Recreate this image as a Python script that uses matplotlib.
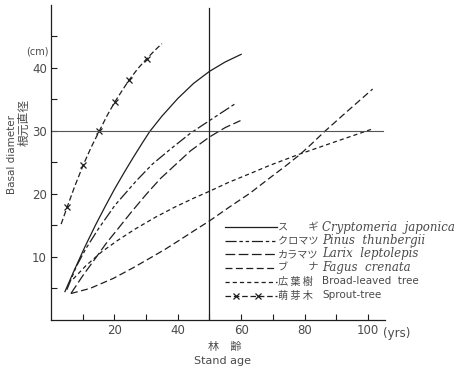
import matplotlib.pyplot as plt
from matplotlib.lines import Line2D

plt.rcParams['lines.scale_dashes'] = False
plt.rcParams['font.family'] = ['DejaVu Sans', 'Noto Sans CJK JP']

# curves (stand age in yrs, basal diameter in cm)
sugi_x = [4.4, 7, 10.7, 14, 17, 20, 23, 26, 29, 31.2, 35, 40, 45, 50, 55, 60]
sugi_y = [4.5, 7.5, 11.6, 15.0, 17.9, 20.7, 23.3, 25.8, 28.2, 29.9, 32.3, 35.1, 37.5, 39.4, 40.9, 42.1]

pinus_x = [5, 8, 11, 14.9, 20.2, 27, 32, 37.5, 44, 50, 58.5]
pinus_y = [4.8, 8.5, 11.3, 14.4, 18.2, 22.1, 24.7, 27.0, 29.6, 31.6, 34.4]

larix_x = [6.3, 10, 13.9, 17.5, 21.2, 25.5, 30.2, 34.5, 38.6, 44, 50, 55, 59.8]
larix_y = [4.2, 7.0, 9.7, 12.2, 14.5, 17.2, 20.0, 22.4, 24.3, 26.8, 29.0, 30.5, 31.6]

fagus_x = [6.3, 12.3, 19.7, 26, 31.2, 36, 40.7, 45, 50, 56, 62.8, 69, 74, 78.5, 82, 86.4, 94, 101.5]
fagus_y = [4.2, 5.0, 6.6, 8.3, 9.8, 11.2, 12.7, 14.1, 15.7, 17.8, 20.1, 22.5, 24.4, 26.2, 27.8, 29.9, 33.3, 36.6]

broad_x = [7, 11, 16, 21, 26.5, 33, 39.1, 45, 50, 56, 62.8, 69, 78.5, 90, 101]
broad_y = [6.5, 8.6, 10.8, 12.6, 14.4, 16.3, 17.9, 19.3, 20.4, 21.8, 23.2, 24.5, 26.3, 28.3, 30.2]

sprout_x = [3.2, 5.1, 7.5, 10.2, 12.7, 15.2, 17.7, 20.2, 22.5, 24.6, 27.5, 30.2, 32.5, 35]
sprout_y = [15.2, 17.9, 21.2, 24.6, 27.4, 29.9, 32.4, 34.6, 36.4, 38.0, 39.9, 41.4, 42.6, 43.8]
sprout_marks = [1, 3, 5, 7, 9, 11]

x_ticks = [10, 20, 30, 40, 50, 60, 70, 80, 90, 100]
x_ticklabels = ['', '20', '', '40', '', '60', '', '80', '', '100']
y_ticks = [5, 10, 15, 20, 25, 30, 35, 40, 45]
y_ticklabels = ['', '10', '', '20', '', '30', '', '40', '']

jp_names = ['ス\u3000\u3000ギ', 'クロマツ', 'カラマツ', 'ブ\u3000\u3000ナ', '広 葉 樹', '萌 芽 木']
latin_names = ['Cryptomeria  japonica', 'Pinus  thunbergii', 'Larix  leptolepis',
               'Fagus  crenata', 'Broad-leaved  tree', 'Sprout-tree']

ink = '#1e1e1e'
txt = '#4a4a4a'
styles = [
    dict(linestyle='-'),
    dict(linestyle=(0, (8, 2, 2.5, 2, 2.5, 2))),
    dict(linestyle=(0, (7, 2.5))),
    dict(linestyle=(0, (5, 2.5))),
    dict(linestyle=(0, (3, 2.2))),
    dict(linestyle=(0, (4, 2)), marker='x', markersize=4, markeredgewidth=0.9),
]

W, H = 459, 368
def fx(px):
    return px / W
def fy(py):
    return 1 - py / H

fig = plt.figure(figsize=(W / 100, H / 100), dpi=100)
ax = fig.add_axes([fx(51), fy(320), (385 - 51) / W, (320 - 4.5) / H])
ax.set_xlim(0, 105.4)
ax.set_ylim(0, 50)

series = [(sugi_x, sugi_y), (pinus_x, pinus_y), (larix_x, larix_y),
          (fagus_x, fagus_y), (broad_x, broad_y), (sprout_x, sprout_y)]
for i, (xs, ys) in enumerate(series):
    kw = dict(styles[i])
    if i == 5:
        kw['markevery'] = sprout_marks
    ax.plot(xs, ys, color=ink, lw=0.9, **kw)

# reference lines
ax.axhline(30, xmin=0, xmax=104.7 / 105.4, color='#555555', lw=0.8)
ax.plot([50, 50], [0, 49.5], color=ink, lw=0.9)

for s in ['top', 'right']:
    ax.spines[s].set_visible(False)
for s in ['left', 'bottom']:
    ax.spines[s].set_color(ink)
    ax.spines[s].set_linewidth(0.9)

ax.set_xticks(x_ticks)
ax.set_xticklabels(x_ticklabels)
ax.set_yticks(y_ticks)
ax.set_yticklabels(y_ticklabels)
ax.tick_params(direction='in', length=4, width=0.8, color=ink,
               labelsize=8.5, labelcolor=txt, pad=3)

fig.text(fx(383), fy(333), '(yrs)', fontsize=8.5, color=txt, va='center', ha='left')
fig.text(fx(37), fy(52), '(cm)', fontsize=7, color=txt, va='center', ha='center')

fig.text(fx(225), fy(347), '林\u3000齢', fontsize=8, color=txt, ha='center', va='center',
         family=['Noto Sans CJK JP'])
fig.text(fx(222), fy(361), 'Stand age', fontsize=8, color=txt, ha='center', va='center')

fig.text(fx(24), fy(122), '根元直径', fontsize=8.5, color=txt, ha='center', va='center',
         rotation=90, family=['Noto Sans CJK JP'])
fig.text(fx(12), fy(155), 'Basal diameter', fontsize=7.5, color=txt, ha='center', va='center',
         rotation=90)

# legend drawn by hand
rows = [227.3, 240.5, 254, 267.5, 281.5, 295.5]
for i, ry in enumerate(rows):
    kw = dict(styles[i])
    if i == 5:
        kw['markevery'] = [1, 3]
        line = Line2D([fx(225), fx(236), fx(247), fx(258), fx(277)], [fy(ry)] * 5,
                      color=ink, lw=0.9, transform=fig.transFigure, **kw)
    else:
        line = Line2D([fx(225), fx(277)], [fy(ry), fy(ry)], color=ink, lw=0.9,
                      transform=fig.transFigure, **kw)
    fig.add_artist(line)
    fig.text(fx(278), fy(ry), jp_names[i], fontsize=7.3, color=txt, va='center', ha='left',
             family=['Noto Sans CJK JP'])
    if i < 4:
        fig.text(fx(322), fy(ry), latin_names[i], fontsize=8.5, color=txt, va='center',
                 ha='left', family=['DejaVu Serif'], style='italic')
    else:
        fig.text(fx(322), fy(ry), latin_names[i], fontsize=7.5, color=txt, va='center',
                 ha='left')

fig.savefig('out.png', dpi=100, facecolor='white')
